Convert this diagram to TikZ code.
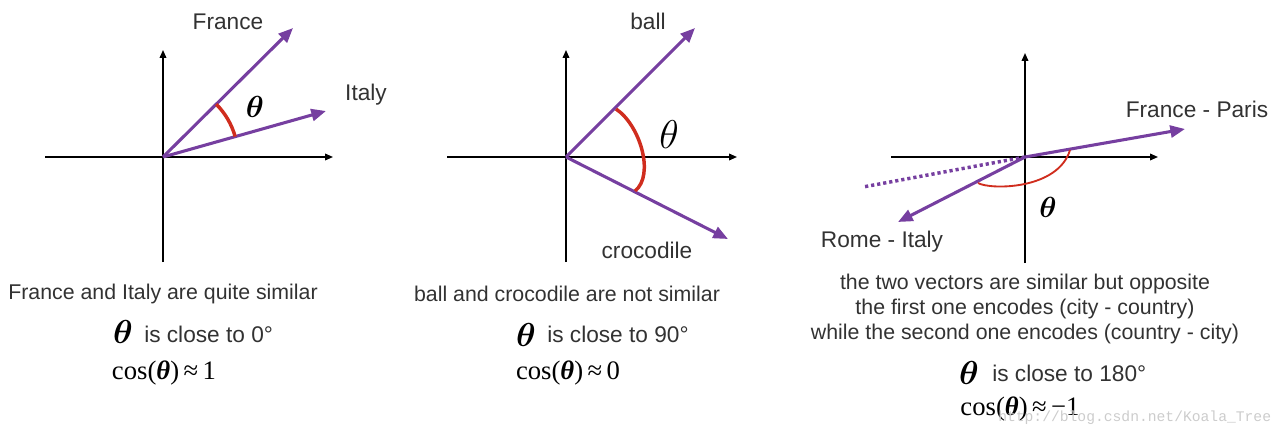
\documentclass[tikz,border=0pt]{standalone}
\usepackage{amsmath,amssymb}
\usepackage{fontspec}
\setmainfont{Liberation Sans}
\newfontfamily\timesfont{Liberation Serif}
\newfontfamily\wmfont{Liberation Mono}
\usepackage{xcolor}
\usetikzlibrary{positioning,arrows.meta}

\definecolor{vecpurple}{RGB}{118,63,160}
\definecolor{angred}{RGB}{208,45,30}
\definecolor{txtgray}{RGB}{50,50,50}

% theta at a given scale (math fonts stop at 20.74pt)
\newcommand{\bigtheta}[1]{\scalebox{#1}{$\theta$}}
\newcommand{\boldtheta}[1]{\scalebox{#1}{$\boldsymbol{\theta}$}}

\begin{document}
\begin{tikzpicture}[
    x=0.75pt, y=0.75pt,
    every node/.style = {font=\fontsize{16}{19}\selectfont, text=txtgray, inner sep=0pt},
    axis/.style       = {-{Triangle[length=6pt,width=5pt]}, line width=1.1pt, draw=black},
    vec/.style        = {-{Triangle[length=11pt,width=9pt]}, line width=2.3pt, draw=vecpurple},
    ang/.style        = {line width=2.6pt, draw=angred},
    lbl/.style        = {font=\fontsize{17}{20}\selectfont},
    theta/.style      = {text=black, font=\fontsize{20.74}{24}\selectfont},
    cosline/.style    = {text=black, font=\fontsize{20}{24}\timesfont},
]
\useasboundingbox (0,0) rectangle (1281,-428);

% Panel 1: France / Italy, small angle
\coordinate (O1)  at (163,-157);
\coordinate (x1l) at (45,-157);
\coordinate (x1r) at (333,-157);
\coordinate (y1b) at (163,-262);
\coordinate (y1t) at (163,-50);
\draw[axis] (x1l) -- (x1r);
\draw[axis] (y1b) -- (y1t);

\coordinate (france) at (293,-28);
\coordinate (italy)  at (326,-111);
\draw[vec] (O1) -- (france);
\draw[vec] (O1) -- (italy);
\draw[ang] (O1) ++(44.8:75) arc[start angle=44.8, end angle=15.8, radius=75];

\node[lbl]   (lblFrance) at (228,-22)  {France};
\node[lbl]   (lblItaly)  at (366,-95)  {Italy};
\node[theta] (th1)       at (255,-107) {\boldtheta{1.1}};

\node (cap1) at (163,-294) {France and Italy are quite similar};
\node[theta] (th1b) at (123,-332) {\boldtheta{1.2}};
\node[lbl, anchor=west] (close1) at (144,-334) {is close to 0°};
\node[cosline] (cos1) at (164,-373) {cos(\textbf{\textit{θ}})\,≈\,1};

% Panel 2: ball / crocodile, right angle
\coordinate (O2)  at (566,-157);
\coordinate (x2l) at (447,-157);
\coordinate (x2r) at (737,-157);
\coordinate (y2b) at (566,-262);
\coordinate (y2t) at (566,-50);
\draw[axis] (x2l) -- (x2r);
\draw[axis] (y2b) -- (y2t);

\coordinate (ball) at (695,-28);
\coordinate (croc) at (728,-239);
\draw[vec] (O2) -- (ball);
\draw[vec] (O2) -- (croc);
\draw[ang] (616,-109) .. controls (640,-125) and (655,-175) .. (635,-191);

\node[lbl]   (lblBall) at (648,-21)  {ball};
\node[lbl]   (lblCroc) at (647,-250) {crocodile};
\node[theta] (th2) at (669,-135) {\bigtheta{1.45}};

\node (cap2) at (567,-294) {ball and crocodile are not similar};
\node[theta] (th2b) at (526,-335) {\boldtheta{1.2}};
\node[lbl, anchor=west] (close2) at (547,-334) {is close to 90°};
\node[cosline] (cos2) at (568,-373) {cos(\textbf{\textit{θ}})\,≈\,0};

% Panel 3: France - Paris / Rome - Italy, opposite
\coordinate (O3)  at (1025,-157);
\coordinate (x3l) at (891,-157);
\coordinate (x3r) at (1158,-157);
\coordinate (y3b) at (1025,-263);
\coordinate (y3t) at (1025,-53);
\draw[axis] (x3l) -- (x3r);
\draw[axis] (y3b) -- (y3t);

\coordinate (fpar) at (1185,-129);
\coordinate (rita) at (898,-222);
\coordinate (ext)  at (863,-187);
\draw[vecpurple, line width=2.6pt, dash pattern=on 2.4pt off 2.2pt] (O3) -- (ext);
\draw[vec] (O3) -- (fpar);
\draw[vec] (O3) -- (rita);
\draw[ang, line width=1.4pt] (1070,-150) .. controls (1058,-190) and (990,-190) .. (978,-183);

\node[lbl]   (lblFP) at (1197,-109) {France - Paris};
\node[lbl]   (lblRI) at (882,-242)  {Rome - Italy};
\node[theta] (th3) at (1048,-207) {\boldtheta{1.05}};

\node[align=center, font=\fontsize{16}{19.1}\selectfont] (cap3) at (1025,-309)
    {the two vectors are similar but opposite\\
     the first one encodes (city - country)\\
     while the second one encodes (country - city)};
\node[theta] (th3b) at (969,-373) {\boldtheta{1.2}};
\node[lbl, anchor=west] (close3) at (992,-373) {is close to 180°};
\node[cosline] (cos3) at (1020,-409) {cos(\textbf{\textit{θ}})\,≈\,−1};

% watermark
\node[anchor=west, text=gray!40, font=\fontsize{11}{13}\wmfont] (wm) at (998,-418)
    {http://blog.csdn.net/Koala\_Tree};

\end{tikzpicture}
\end{document}
